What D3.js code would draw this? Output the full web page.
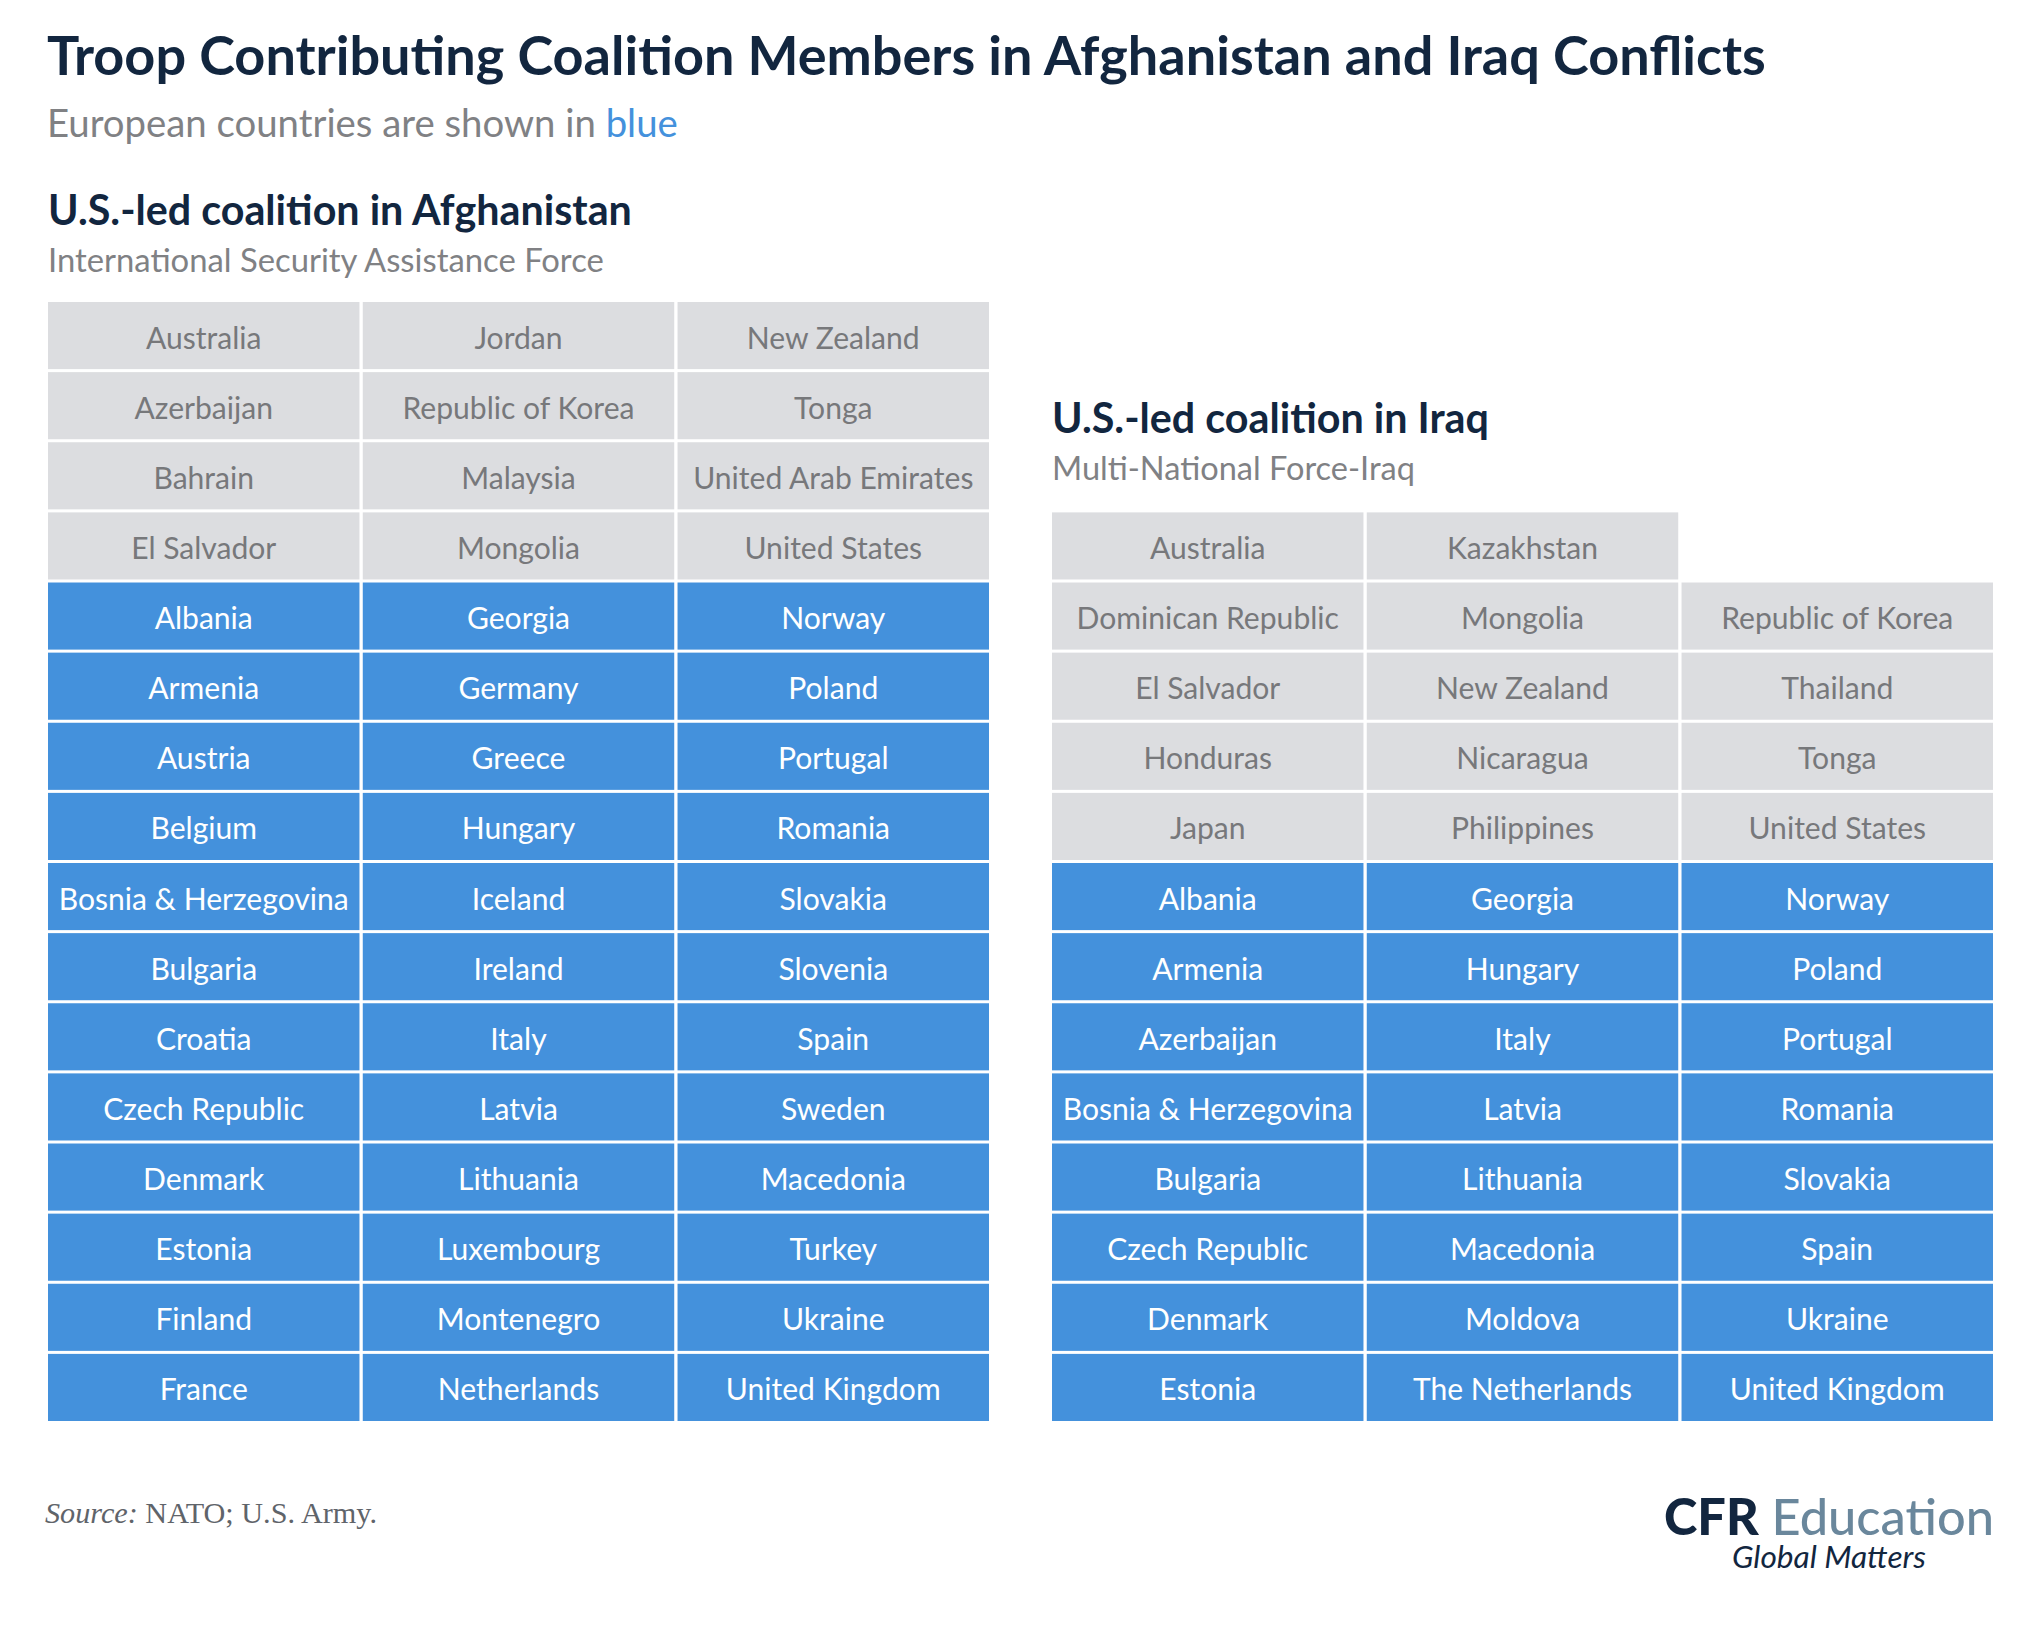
<!DOCTYPE html>
<html>
<head>
<meta charset="utf-8">
<script src="https://cdn.jsdelivr.net/npm/d3@7"></script>
<style>
  html, body { margin: 0; padding: 0; background: #ffffff; }
  svg { display: block; }
</style>
</head>
<body>
<svg id="chart" width="2041" height="1633"></svg>
<script>
// ---------------- DATA ----------------
const titleText = "Troop Contributing Coalition Members in Afghanistan and Iraq Conflicts";
const subtitleParts = ["European countries are shown in ", "blue"];

const afghanTitle = "U.S.-led coalition in Afghanistan";
const afghanSubtitle = "International Security Assistance Force";
// non-European members, listed by column
const afghanOtherCol1 = ["Australia", "Azerbaijan", "Bahrain", "El Salvador"];
const afghanOtherCol2 = ["Jordan", "Republic of Korea", "Malaysia", "Mongolia"];
const afghanOtherCol3 = ["New Zealand", "Tonga", "United Arab Emirates", "United States"];
// European members, listed by column
const afghanEuropeCol1 = ["Albania", "Armenia", "Austria", "Belgium", "Bosnia & Herzegovina", "Bulgaria",
  "Croatia", "Czech Republic", "Denmark", "Estonia", "Finland", "France"];
const afghanEuropeCol2 = ["Georgia", "Germany", "Greece", "Hungary", "Iceland", "Ireland",
  "Italy", "Latvia", "Lithuania", "Luxembourg", "Montenegro", "Netherlands"];
const afghanEuropeCol3 = ["Norway", "Poland", "Portugal", "Romania", "Slovakia", "Slovenia",
  "Spain", "Sweden", "Macedonia", "Turkey", "Ukraine", "United Kingdom"];

const iraqTitle = "U.S.-led coalition in Iraq";
const iraqSubtitle = "Multi-National Force-Iraq";
const iraqOtherCol1 = ["Australia", "Dominican Republic", "El Salvador", "Honduras", "Japan"];
const iraqOtherCol2 = ["Kazakhstan", "Mongolia", "New Zealand", "Nicaragua", "Philippines"];
const iraqOtherCol3 = [null, "Republic of Korea", "Thailand", "Tonga", "United States"];
const iraqEuropeCol1 = ["Albania", "Armenia", "Azerbaijan", "Bosnia & Herzegovina", "Bulgaria",
  "Czech Republic", "Denmark", "Estonia"];
const iraqEuropeCol2 = ["Georgia", "Hungary", "Italy", "Latvia", "Lithuania",
  "Macedonia", "Moldova", "The Netherlands"];
const iraqEuropeCol3 = ["Norway", "Poland", "Portugal", "Romania", "Slovakia",
  "Spain", "Ukraine", "United Kingdom"];

const sourceLabel = "Source:";
const sourceText = " NATO; U.S. Army.";
const logoParts = ["CFR", "Education"];
const logoTagline = "Global Matters";

// ---------------- STYLE ----------------
const SANS = "Lato, 'Noto Sans', sans-serif";
const SERIF = "'Liberation Serif', 'DejaVu Serif', serif";
const NAVY = "#12263f";
const BLUE = "#4491dc";
const GRAY_CELL = "#dcdde0";
const CELL_GRAY_TEXT = "#77787b";

const svg = d3.select("#chart");

// fit font size so that a text spans the given width
function fit(sel, width) {
  const fs = parseFloat(sel.attr("font-size"));
  const w = sel.node().getComputedTextLength();
  sel.attr("font-size", (fs * width / w).toFixed(2));
  return sel;
}

// ---------------- HEADINGS ----------------
fit(svg.append("text").attr("x", 47).attr("y", 75)
  .attr("font-family", SANS).attr("font-weight", 700).attr("font-size", 52)
  .attr("fill", NAVY).text(titleText), 1719);

const sub = svg.append("text").attr("x", 47).attr("y", 137)
  .attr("font-family", SANS).attr("font-size", 36).attr("fill", "#808184");
sub.append("tspan").text(subtitleParts[0]);
sub.append("tspan").attr("fill", BLUE).text(subtitleParts[1]);
fit(sub, 631);

fit(svg.append("text").attr("x", 48).attr("y", 225)
  .attr("font-family", SANS).attr("font-weight", 700).attr("font-size", 39)
  .attr("fill", NAVY).text(afghanTitle), 584);
fit(svg.append("text").attr("x", 48).attr("y", 272)
  .attr("font-family", SANS).attr("font-size", 31)
  .attr("fill", "#808184").text(afghanSubtitle), 556);

fit(svg.append("text").attr("x", 1052).attr("y", 433)
  .attr("font-family", SANS).attr("font-weight", 700).attr("font-size", 39)
  .attr("fill", NAVY).text(iraqTitle), 437);
fit(svg.append("text").attr("x", 1052).attr("y", 480)
  .attr("font-family", SANS).attr("font-size", 31)
  .attr("fill", "#808184").text(iraqSubtitle), 363);

// ---------------- TABLES ----------------
const TOTAL_ROWS = 16;
const y = d3.scaleBand().domain(d3.range(TOTAL_ROWS)).range([302, 1421]).paddingInner(0.043);
const xLeft = d3.scaleBand().domain([0, 1, 2]).range([48, 989]).paddingInner(0.0105);
const xRight = d3.scaleBand().domain([0, 1, 2]).range([1052, 1993]).paddingInner(0.0105);

// measure cell font size from a reference label
const probe = svg.append("text").attr("font-family", SANS).attr("font-size", 28).text("Republic of Korea");
fit(probe, 232);
const cellFont = +probe.attr("font-size");
probe.remove();

function buildCells(groups) {
  const total = d3.sum(groups, g => d3.max(g.cols, c => c.length));
  let row = TOTAL_ROWS - total;
  const cells = [];
  groups.forEach(g => {
    const n = d3.max(g.cols, c => c.length);
    g.cols.forEach((col, ci) => {
      col.forEach((name, ri) => {
        if (name !== null) cells.push({ name, col: ci, row: row + ri, europe: g.europe });
      });
    });
    row += n;
  });
  return cells;
}

function drawTable(cells, x) {
  const g = svg.append("g");
  const cell = g.selectAll("g.cell").data(cells).join("g").attr("class", "cell");
  cell.append("rect")
    .attr("x", d => x(d.col)).attr("y", d => y(d.row))
    .attr("width", x.bandwidth()).attr("height", y.bandwidth())
    .attr("fill", d => d.europe ? BLUE : GRAY_CELL);
  cell.append("text")
    .attr("x", d => x(d.col) + x.bandwidth() / 2)
    .attr("y", d => y(d.row) + y.bandwidth() / 2 + 13)
    .attr("text-anchor", "middle")
    .attr("font-family", SANS).attr("font-size", cellFont)
    .attr("fill", d => d.europe ? "#ffffff" : CELL_GRAY_TEXT)
    .text(d => d.name);
}

drawTable(buildCells([
  { europe: false, cols: [afghanOtherCol1, afghanOtherCol2, afghanOtherCol3] },
  { europe: true, cols: [afghanEuropeCol1, afghanEuropeCol2, afghanEuropeCol3] }
]), xLeft);

drawTable(buildCells([
  { europe: false, cols: [iraqOtherCol1, iraqOtherCol2, iraqOtherCol3] },
  { europe: true, cols: [iraqEuropeCol1, iraqEuropeCol2, iraqEuropeCol3] }
]), xRight);

// ---------------- FOOTER ----------------
const src = svg.append("text").attr("x", 45).attr("y", 1523)
  .attr("font-family", SERIF).attr("font-size", 27).attr("fill", "#5f646a");
src.append("tspan").attr("font-style", "italic").text(sourceLabel);
src.append("tspan").text(sourceText);
fit(src, 332);

const logo = svg.append("text").attr("x", 1664).attr("y", 1535)
  .attr("font-family", SANS).attr("font-size", 50);
logo.append("tspan").attr("font-weight", 900).attr("fill", NAVY).text(logoParts[0]);
logo.append("tspan").attr("fill", "#6a879c").attr("font-weight", 500).text(" " + logoParts[1]);
fit(logo, 330);

fit(svg.append("text").attr("x", 1732).attr("y", 1568)
  .attr("font-family", SANS).attr("font-style", "italic").attr("font-size", 27)
  .attr("fill", NAVY).text(logoTagline), 194);
</script>
</body>
</html>
